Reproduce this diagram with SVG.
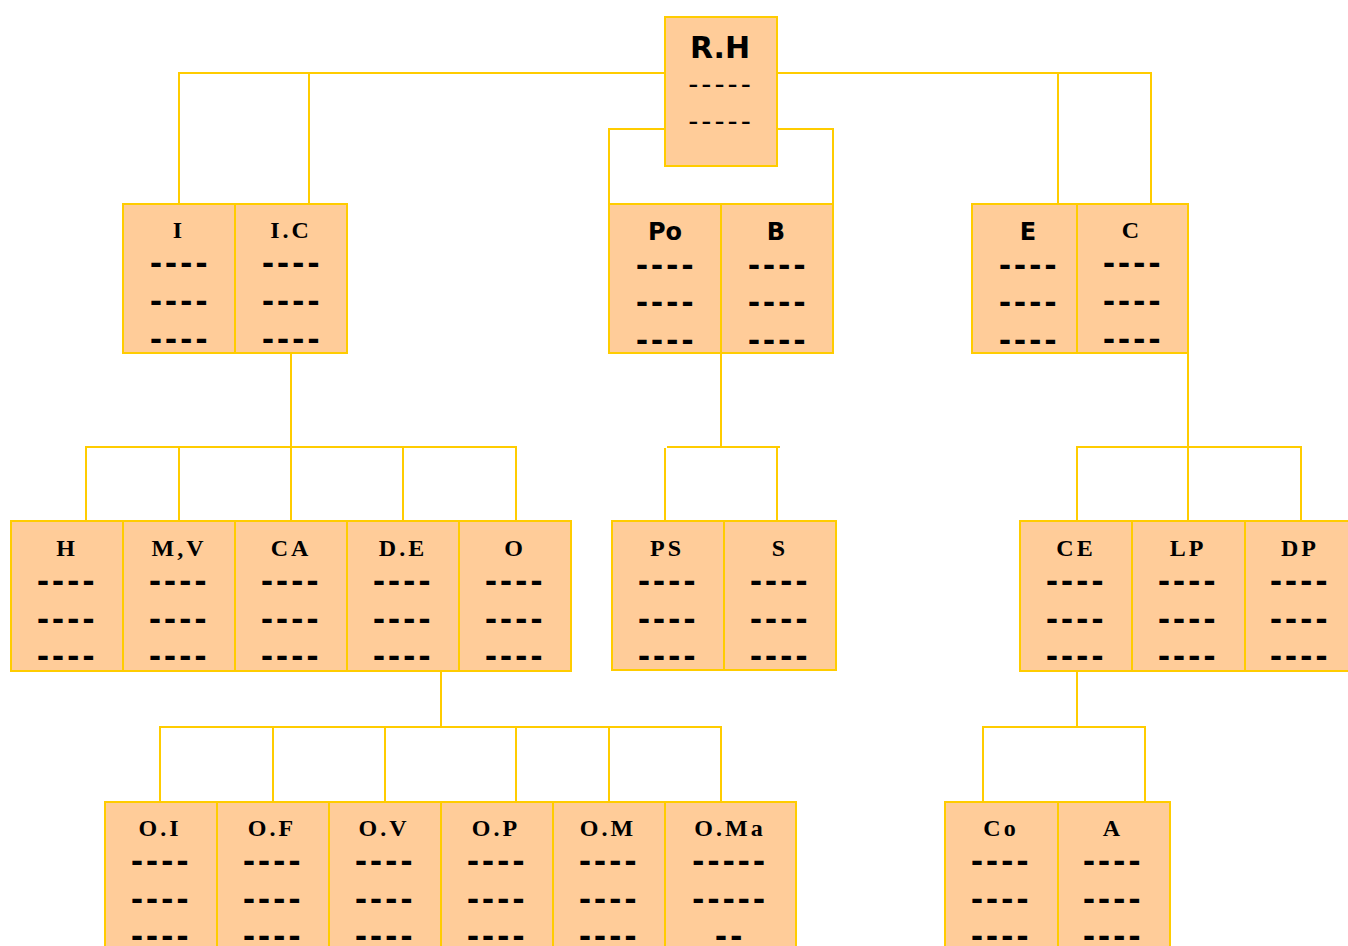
<svg xmlns="http://www.w3.org/2000/svg" width="1348" height="946" viewBox="0 0 1348 946">
<style>
.b{fill:#FFCC99;stroke:#FFCC00;stroke-width:2}
.c{fill:none;stroke:#FFCC00;stroke-width:2}
.ts{font-family:"Liberation Serif","Times New Roman",serif;font-weight:bold;font-size:24px;letter-spacing:3px;text-anchor:middle;fill:#000}
.tn{font-family:"DejaVu Sans",Verdana,sans-serif;font-weight:bold;font-size:24px;text-anchor:middle;fill:#000}
.tr{font-family:"DejaVu Sans",Verdana,sans-serif;font-weight:bold;font-size:30px;text-anchor:middle;fill:#000}
.d{font-family:"DejaVu Sans",Verdana,sans-serif;font-weight:bold;font-size:30px;letter-spacing:2.7px;text-anchor:middle;fill:#000}
.dr{font-family:"DejaVu Sans",Verdana,sans-serif;font-size:28px;letter-spacing:3px;text-anchor:middle;fill:#000}
</style>
<rect width="1348" height="946" fill="#fff"/>
<g id="connectors" class="c">
<path d="M179 204V73H1151V204M309 73V204M1058 73V204"/>
<path d="M609 204V129H833V204"/>
<path d="M291 353V447M86 521V447H516V521M179 447V521M291 447V521M403 447V521"/>
<path d="M721 353V447M665 521V448M667 447H780M777 448V521"/>
<path d="M1188 353V447M1077 521V447H1301V521M1188 447V521"/>
<path d="M441 671V727M160 802V727H721V802M273 727V802M385 727V802M516 727V802M609 727V802"/>
<path d="M1077 671V727M983 802V727H1145V802"/>
</g>
<g id="n-RH"><rect class="b" x="665" y="17" width="112" height="149"/><text class="tr" x="720" y="58">R.H</text><text class="dr" x="721" y="94">-----</text><text class="dr" x="721" y="131">-----</text></g>
<g id="n-I"><rect class="b" x="123" y="204" width="112" height="149"/><text class="ts" x="179" y="238">I</text><text class="d" x="180" y="274">----</text><text class="d" x="180" y="312">----</text><text class="d" x="180" y="350">----</text></g>
<g id="n-IC"><rect class="b" x="235" y="204" width="112" height="149"/><text class="ts" x="291" y="238">I.C</text><text class="d" x="292" y="274">----</text><text class="d" x="292" y="312">----</text><text class="d" x="292" y="350">----</text></g>
<g id="n-Po"><rect class="b" x="609" y="204" width="112" height="149"/><text class="tn" x="665" y="240">Po</text><text class="d" x="666" y="276">----</text><text class="d" x="666" y="313">----</text><text class="d" x="666" y="351">----</text></g>
<g id="n-B"><rect class="b" x="721" y="204" width="112" height="149"/><text class="tn" x="776" y="240">B</text><text class="d" x="778" y="276">----</text><text class="d" x="778" y="313">----</text><text class="d" x="778" y="351">----</text></g>
<g id="n-E"><rect class="b" x="972" y="204" width="105" height="149"/><text class="tn" x="1028" y="240">E</text><text class="d" x="1029" y="276">----</text><text class="d" x="1029" y="313">----</text><text class="d" x="1029" y="351">----</text></g>
<g id="n-C"><rect class="b" x="1077" y="204" width="111" height="149"/><text class="ts" x="1132" y="238">C</text><text class="d" x="1133" y="274">----</text><text class="d" x="1133" y="312">----</text><text class="d" x="1133" y="350">----</text></g>
<g id="n-H"><rect class="b" x="11" y="521" width="112" height="150"/><text class="ts" x="67" y="556">H</text><text class="d" x="67" y="592">----</text><text class="d" x="67" y="630">----</text><text class="d" x="67" y="667">----</text></g>
<g id="n-MV"><rect class="b" x="123" y="521" width="112" height="150"/><text class="ts" x="179" y="556">M,V</text><text class="d" x="179" y="592">----</text><text class="d" x="179" y="630">----</text><text class="d" x="179" y="667">----</text></g>
<g id="n-CA"><rect class="b" x="235" y="521" width="112" height="150"/><text class="ts" x="291" y="556">CA</text><text class="d" x="291" y="592">----</text><text class="d" x="291" y="630">----</text><text class="d" x="291" y="667">----</text></g>
<g id="n-DE"><rect class="b" x="347" y="521" width="112" height="150"/><text class="ts" x="403" y="556">D.E</text><text class="d" x="403" y="592">----</text><text class="d" x="403" y="630">----</text><text class="d" x="403" y="667">----</text></g>
<g id="n-O"><rect class="b" x="459" y="521" width="112" height="150"/><text class="ts" x="515" y="556">O</text><text class="d" x="515" y="592">----</text><text class="d" x="515" y="630">----</text><text class="d" x="515" y="667">----</text></g>
<g id="n-PS"><rect class="b" x="612" y="521" width="112" height="149"/><text class="ts" x="667" y="556">PS</text><text class="d" x="668" y="592">----</text><text class="d" x="668" y="630">----</text><text class="d" x="668" y="667">----</text></g>
<g id="n-S"><rect class="b" x="724" y="521" width="112" height="149"/><text class="ts" x="780" y="556">S</text><text class="d" x="780" y="592">----</text><text class="d" x="780" y="630">----</text><text class="d" x="780" y="667">----</text></g>
<g id="n-CE"><rect class="b" x="1020" y="521" width="112" height="150"/><text class="ts" x="1076" y="556">CE</text><text class="d" x="1076" y="592">----</text><text class="d" x="1076" y="630">----</text><text class="d" x="1076" y="667">----</text></g>
<g id="n-LP"><rect class="b" x="1132" y="521" width="113" height="150"/><text class="ts" x="1188" y="556">LP</text><text class="d" x="1188" y="592">----</text><text class="d" x="1188" y="630">----</text><text class="d" x="1188" y="667">----</text></g>
<g id="n-DP"><rect class="b" x="1245" y="521" width="112" height="150"/><text class="ts" x="1300" y="556">DP</text><text class="d" x="1300" y="592">----</text><text class="d" x="1300" y="630">----</text><text class="d" x="1300" y="667">----</text></g>
<g id="n-OI"><rect class="b" x="105" y="802" width="112" height="160"/><text class="ts" x="160" y="836">O.I</text><text class="d" x="161" y="872">----</text><text class="d" x="161" y="910">----</text><text class="d" x="161" y="947">----</text></g>
<g id="n-OF"><rect class="b" x="217" y="802" width="112" height="160"/><text class="ts" x="272" y="836">O.F</text><text class="d" x="273" y="872">----</text><text class="d" x="273" y="910">----</text><text class="d" x="273" y="947">----</text></g>
<g id="n-OV"><rect class="b" x="329" y="802" width="112" height="160"/><text class="ts" x="384" y="836">O.V</text><text class="d" x="385" y="872">----</text><text class="d" x="385" y="910">----</text><text class="d" x="385" y="947">----</text></g>
<g id="n-OP"><rect class="b" x="441" y="802" width="112" height="160"/><text class="ts" x="496" y="836">O.P</text><text class="d" x="497" y="872">----</text><text class="d" x="497" y="910">----</text><text class="d" x="497" y="947">----</text></g>
<g id="n-OM"><rect class="b" x="553" y="802" width="112" height="160"/><text class="ts" x="608" y="836">O.M</text><text class="d" x="609" y="872">----</text><text class="d" x="609" y="910">----</text><text class="d" x="609" y="947">----</text></g>
<g id="n-OMa"><rect class="b" x="665" y="802" width="131" height="160"/><text class="ts" x="730" y="836">O.Ma</text><text class="d" x="730" y="872">-----</text><text class="d" x="730" y="910">-----</text><text class="d" x="730" y="947">--</text></g>
<g id="n-Co"><rect class="b" x="945" y="802" width="113" height="160"/><text class="ts" x="1001" y="836">Co</text><text class="d" x="1001" y="872">----</text><text class="d" x="1001" y="910">----</text><text class="d" x="1001" y="947">----</text></g>
<g id="n-A"><rect class="b" x="1058" y="802" width="112" height="160"/><text class="ts" x="1113" y="836">A</text><text class="d" x="1113" y="872">----</text><text class="d" x="1113" y="910">----</text><text class="d" x="1113" y="947">----</text></g>
</svg>
